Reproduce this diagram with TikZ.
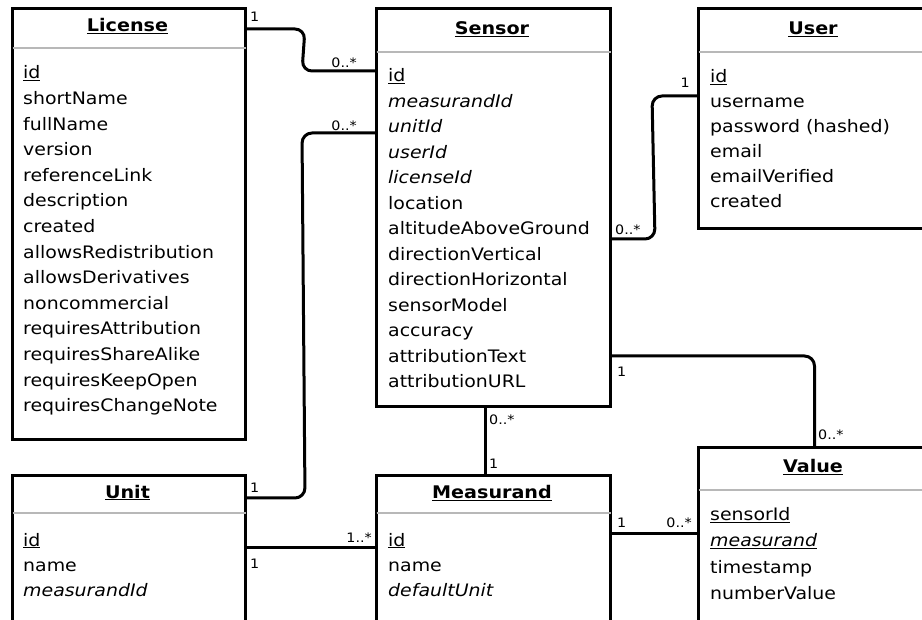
\documentclass[tikz,border=0pt]{standalone}
\usepackage{fontspec}
\setmainfont{DejaVu Sans}[FakeStretch=1.1]
\usetikzlibrary{calc}
\begin{document}
\begin{tikzpicture}[x=1pt,y=-1pt,
  cls/.style={draw=black, line width=3pt, anchor=north west, inner sep=0pt, fill=white},
  sepline/.style={draw=black!28, line width=2pt},
  conn/.style={draw=black, line width=3pt, rounded corners=10pt},
  ttl/.style={anchor=base, font=\fontsize{17.4}{20}\selectfont\bfseries, inner sep=0pt},
  attr/.style={anchor=base west, font=\fontsize{17.2}{20}\selectfont, inner sep=0pt},
  mult/.style={anchor=base west, font=\fontsize{13}{15}\selectfont, inner sep=0pt},
  multr/.style={anchor=base east, font=\fontsize{13}{15}\selectfont, inner sep=0pt}]
\useasboundingbox (0,0) rectangle (922,620);
\clip (0,0) rectangle (922,620);

% class boxes
\node[cls, minimum width=233pt, minimum height=431pt] (license) at (11,7) {};
\node[cls, minimum width=234pt, minimum height=398pt] (sensor) at (375,7) {};
\node[cls, minimum width=232pt, minimum height=220pt] (user) at (697,7) {};
\node[cls, minimum width=233pt, minimum height=170pt] (unit) at (11,474) {};
\node[cls, minimum width=234pt, minimum height=170pt] (measurand) at (375,474) {};
\node[cls, minimum width=232pt, minimum height=200pt] (value) at (697,446) {};

% separators
\draw[sepline] ($(license.north west)+(1.5,41)$) -- ($(license.north east)+(-1.5,41)$);
\draw[sepline] ($(sensor.north west)+(1.5,45)$) -- ($(sensor.north east)+(-1.5,45)$);
\draw[sepline] ($(user.north west)+(1.5,45)$) -- ($(user.north east)+(-1.5,45)$);
\draw[sepline] ($(unit.north west)+(1.5,39)$) -- ($(unit.north east)+(-1.5,39)$);
\draw[sepline] ($(measurand.north west)+(1.5,39)$) -- ($(measurand.north east)+(-1.5,39)$);
\draw[sepline] ($(value.north west)+(1.5,44)$) -- ($(value.north east)+(-1.5,44)$);

% titles
\node[ttl] (license-t) at (127.5,32) {\underline{License}};
\node[ttl] (sensor-t) at (492,35) {\underline{Sensor}};
\node[ttl] (user-t) at (813,35) {\underline{User}};
\node[ttl] (unit-t) at (127.5,498) {\underline{Unit}};
\node[ttl] (measurand-t) at (492,499) {\underline{Measurand}};
\node[ttl] (value-t) at (813,473) {\underline{Value}};

% attributes
\foreach \t [count=\i] in {{\underline{id}}, shortName, fullName, version, referenceLink, description, created, allowsRedistribution, allowsDerivatives, noncommercial, requiresAttribution, requiresShareAlike, requiresKeepOpen, requiresChangeNote}
  \node[attr] (license-a\i) at (23,{79+25.6*(\i-1)}) {\t};
\foreach \t [count=\i] in {{\underline{id}}, {\textit{measurandId}}, {\textit{unitId}}, {\textit{userId}}, {\textit{licenseId}}, location, altitudeAboveGround, directionVertical, directionHorizontal, sensorModel, accuracy, attributionText, attributionURL}
  \node[attr] (sensor-a\i) at (388,{82+25.5*(\i-1)}) {\t};
\foreach \t [count=\i] in {{\underline{id}}, username, password (hashed), email, emailVerified, created}
  \node[attr] (user-a\i) at (710,{83+25*(\i-1)}) {\t};
\foreach \t [count=\i] in {{\underline{id}}, name, {\textit{measurandId}}}
  \node[attr] (unit-a\i) at (23,{546+25*(\i-1)}) {\t};
\foreach \t [count=\i] in {{\underline{id}}, name, {\textit{defaultUnit}}}
  \node[attr] (measurand-a\i) at (388,{546+25*(\i-1)}) {\t};
\foreach \t [count=\i] in {{\underline{sensorId}}, {\underline{\textit{measurand}}}, timestamp, numberValue}
  \node[attr] (value-a\i) at (710,{521+26*(\i-1)}) {\t};

% connectors
\draw[conn] ($(license.north east)+(0,22)$) -- ($(license.north east)+(58,22)$)
  -- ($(sensor.north west)+(-73,64)$) -- ($(sensor.north west)+(0,64)$);
\draw[conn] ($(unit.north east)+(0,24)$) -- ($(unit.north east)+(58,24)$)
  -- ($(sensor.north west)+(-73,126)$) -- ($(sensor.north west)+(0,126)$);
\draw[conn] ($(sensor.north east)+(0,232)$) -- ($(sensor.north east)+(43,232)$)
  -- ($(user.north west)+(-45,89)$) -- ($(user.north west)+(0,89)$);
\draw[conn] ($(sensor.north east)+(0,349)$) -| (value.north);
\draw[conn, rounded corners=0pt] ($(sensor.south)+(-8,0)$) -- ($(measurand.north)+(-8,0)$);
\draw[conn, rounded corners=0pt] ($(unit.north east)+(0,73)$) -- ($(measurand.north west)+(0,73)$);
\draw[conn, rounded corners=0pt] ($(measurand.north east)+(0,59)$) -- ($(value.north west)+(0,87)$);

% multiplicities
\node[mult] (m1) at (250,22) {1};
\node[multr] (m2) at (357,68) {0..*};
\node[multr] (m3) at (357,131) {0..*};
\node[mult] (m4) at (250,493) {1};
\node[multr] (m5) at (372,542) {1..*};
\node[mult] (m6) at (250,568) {1};
\node[multr] (m7) at (690,88) {1};
\node[mult] (m8) at (615,235) {0..*};
\node[mult] (m9) at (617,377) {1};
\node[mult] (m10) at (818,440) {0..*};
\node[mult] (m11) at (489,425) {0..*};
\node[mult] (m12) at (489,468) {1};
\node[mult] (m13) at (617,527) {1};
\node[multr] (m14) at (692,527) {0..*};
\end{tikzpicture}
\end{document}
